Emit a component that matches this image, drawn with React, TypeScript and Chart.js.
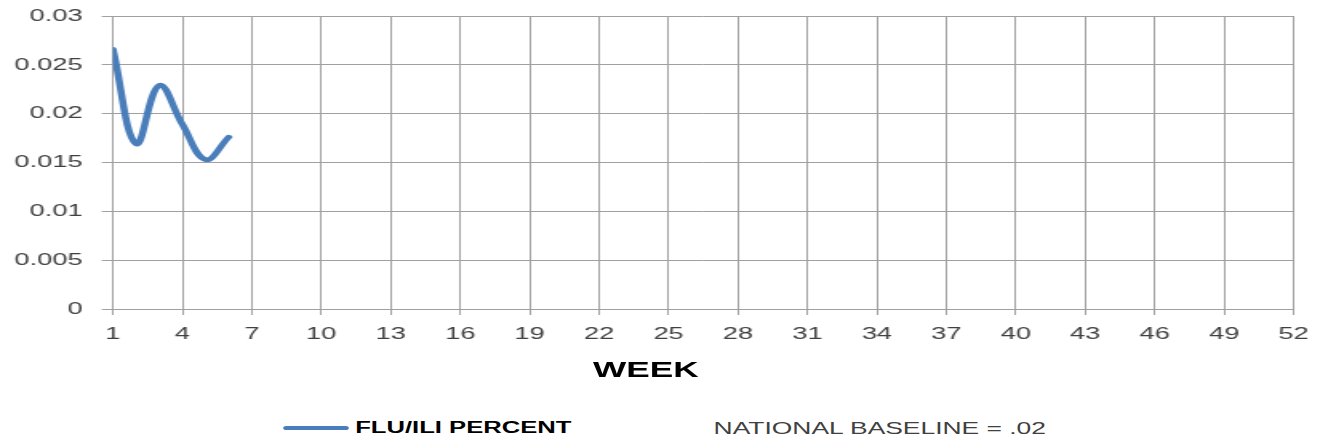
import React, { useEffect, useRef } from "react";
import { Chart, registerables } from "chart.js";

Chart.register(...registerables);

// Data
const weeks = [1, 2, 3, 4, 5, 6];
const fluIliPercent = [0.0266, 0.0169, 0.0229, 0.0189, 0.0153, 0.0176];
const seriesLabel = "FLU/ILI PERCENT";
const baselineLabel = "NATIONAL BASELINE = .02";
const xTitle = "WEEK";
const xMin = 1;
const xMax = 52;
const xStep = 3;
const yMin = 0;
const yMax = 0.03;
const yStep = 0.005;

const STRETCH = 1.6;
const W = 827;
const H = 400;
const FONT = "'Liberation Sans', Arial, sans-serif";
const GRID = "#a0a0a0";
const BLUE = "#4a7ebb";

export default function App() {
  const ref = useRef<HTMLCanvasElement | null>(null);

  useEffect(() => {
    if (!ref.current) return;
    const chart = new Chart(ref.current, {
      type: "line",
      data: {
        datasets: [
          {
            label: seriesLabel,
            data: weeks.map((w, i) => ({ x: w, y: fluIliPercent[i] })),
            borderColor: BLUE,
            backgroundColor: BLUE,
            borderWidth: 4.5,
            pointRadius: 0,
            tension: 0.4,
            fill: false,
            borderCapStyle: "round",
          },
        ],
      },
      options: {
        animation: false,
        responsive: false,
        layout: { padding: { top: 16, right: 17, left: 0, bottom: 0 } },
        plugins: { legend: { display: false }, tooltip: { enabled: false } },
        scales: {
          x: {
            type: "linear",
            min: xMin,
            max: xMax,
            grid: { color: GRID, lineWidth: 1, tickLength: 6, drawTicks: true },
            border: { color: GRID, width: 1 },
            ticks: {
              stepSize: xStep,
              autoSkip: false,
              maxRotation: 0,
              padding: 9,
              color: "#404040",
              font: { family: FONT, size: 17 },
              callback: (v: any) => String(v),
            },
            afterFit: (s: any) => {
              s.height = 91;
            },
          },
          y: {
            min: yMin,
            max: yMax,
            grid: { color: GRID, lineWidth: 1, tickLength: 7, drawTicks: true },
            border: { color: GRID, width: 1 },
            ticks: {
              stepSize: yStep,
              padding: 12,
              color: "#404040",
              font: { family: FONT, size: 17 },
              callback: (v: any) => Number(Number(v).toFixed(3)).toString(),
            },
            afterFit: (s: any) => {
              s.width = 70.6;
              s.paddingTop = 0;
              s.paddingBottom = 0;
            },
          },
        },
      },
    });
    return () => chart.destroy();
  }, []);

  return (
    <div
      style={{
        position: "absolute",
        left: 0,
        top: 0,
        width: W,
        height: 440,
        transform: `scaleX(${STRETCH})`,
        transformOrigin: "0 0",
        background: "#ffffff",
      }}
    >
      <canvas ref={ref} width={W} height={H} style={{ display: "block" }} />
      <div
        style={{
          position: "absolute",
          left: 370.6,
          top: 359,
          fontFamily: FONT,
          fontSize: 22,
          lineHeight: "22px",
          fontWeight: "bold",
          color: "#000000",
          whiteSpace: "nowrap",
        }}
      >
        {xTitle}
      </div>
      <div
        style={{
          position: "absolute",
          left: 177,
          top: 426,
          width: 41,
          height: 4,
          borderRadius: 2,
          background: BLUE,
        }}
      />
      <div
        style={{
          position: "absolute",
          left: 222,
          top: 420,
          fontFamily: FONT,
          fontSize: 16,
          lineHeight: "16px",
          fontWeight: "bold",
          color: "#000000",
          whiteSpace: "nowrap",
        }}
      >
        {seriesLabel}
      </div>
      <div
        style={{
          position: "absolute",
          left: 446,
          top: 420,
          fontFamily: FONT,
          fontSize: 16.5,
          lineHeight: "16.5px",
          color: "#404040",
          whiteSpace: "nowrap",
        }}
      >
        {baselineLabel}
      </div>
    </div>
  );
}
